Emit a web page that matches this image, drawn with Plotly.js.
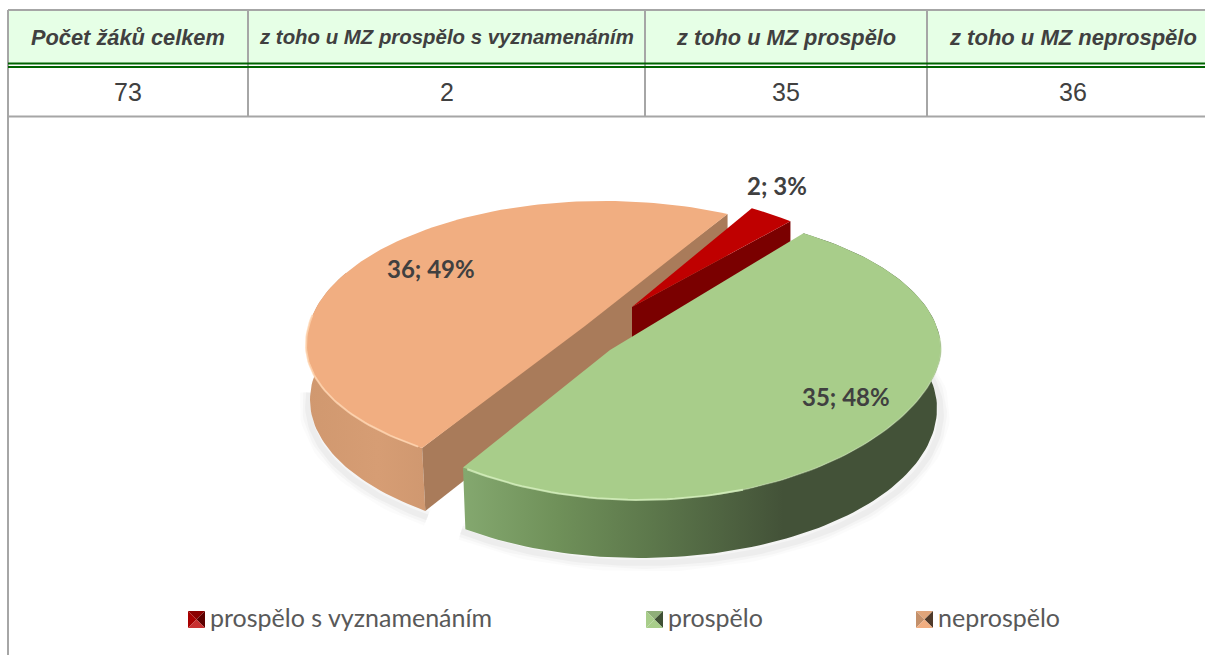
<!DOCTYPE html>
<html>
<head>
<meta charset="utf-8">
<script src="https://cdn.plot.ly/plotly-3.0.1.min.js"></script>
<style>html,body{margin:0;padding:0;background:#fff;overflow:hidden}#chart{width:1205px;height:655px}</style>
</head>
<body>
<div id="chart"></div>
<script>
// ---- data ----
const tableHeaders = ["Počet žáků celkem", "z toho u MZ prospělo s vyznamenáním", "z toho u MZ prospělo", "z toho u MZ neprospělo"];
const tableValues = [73, 2, 35, 36];
const sliceNames = ["prospělo s vyznamenáním", "prospělo", "neprospělo"];
const sliceValues = [2, 35, 36];

// ---- geometry and styling ----
const W = 1205, H = 655;
const colX = [8, 248, 645, 927, 1205];
const colShift = [0, 0, 0, 7];
const headSize = [21.8, 20.4, 21.8, 22];
const tableY = {top: 10, headBottom: 63.5, dbl2: 67, rowBottom: 116.5};
const startAngle = 24.5;
const stretch = [0.85, 1.061, 0.94];           // perspective widening of each slice's sweep
const startShift = [0, 0, 1.6];
const ell = [
  {cx: 627, cy: 340, rx: 301, ryT: 149, ryB: 150, p: 1.3, ax: 632, ay: 307},
  {cx: 640, cy: 350, rx: 301, ryT: 139, ryB: 150, pB: 1.15, ax: 610, ay: 350},
  {cx: 604, cy: 345, rx: 298, ryT: 144, ryB: 130, ax: 585, ay: 326}
];
const bottom = [
  {cx: 627, cy: 400, rx: 301, ryT: 149, ryB: 150, p: 1.3},
  {cx: 640, cy: 408, rx: 297, ryT: 139, ryB: 150},
  {cx: 606, cy: 400, rx: 296, ryT: 144, ryB: 140}
];
const topColor = ["#bf0000", "#a8cd8a", "#f1ae81"];
const cutColor = ["#7a0000", null, "#a97b5a"];
const FONT_LABEL = "Lato, 'Open Sans', sans-serif";

const total = sliceValues.reduce((a, b) => a + b, 0);
const rad = d => d * Math.PI / 180;
function pt(e, t) {
  const c = Math.cos(rad(t)), s = Math.sin(rad(t));
  const ry = c >= 0 ? e.ryT : e.ryB;
  const p = e.p || (c < 0 && e.pB) || 1;
  return [e.cx + e.rx * s, e.cy - ry * Math.sign(c) * Math.pow(Math.abs(c), p)];
}
function arc(e, t1, t2) {
  const n = Math.max(8, Math.ceil(Math.abs(t2 - t1) / 1.5)), out = [];
  for (let i = 0; i <= n; i++) out.push(pt(e, t1 + (t2 - t1) * i / n));
  return out;
}
// sweep of every slice, from the values
const sweep = [];
let cur = startAngle;
sliceValues.forEach((v, i) => {
  const a = v / total * 360 * stretch[i];
  sweep.push([cur + startShift[i], cur + startShift[i] + a]);
  cur += a;
});
const traces = [];
function poly(points, color, grad) {
  const t = {type: "scatter", mode: "lines", x: points.map(p => p[0]).concat(points[0][0]),
    y: points.map(p => p[1]).concat(points[0][1]), fill: "toself", line: {width: 0},
    hoverinfo: "skip", showlegend: false};
  if (grad) t.fillgradient = {type: "horizontal", colorscale: grad};
  else t.fillcolor = color;
  traces.push(t);
}
function stroke(points, color, width) {
  traces.push({type: "scatter", mode: "lines", x: points.map(p => p[0]), y: points.map(p => p[1]),
    line: {color: color, width: width}, hoverinfo: "skip", showlegend: false});
}
const [sR, sG, sO] = sweep;
const [eR, eG, eO] = ell;
const [, bG, bO] = bottom;

// soft shadow under the pie
const shG = {...bG, cx: bG.cx + 4, cy: bG.cy + 5};
const shO = {...bO, cx: bO.cx - 2, cy: bO.cy + 5};
[[18, .016], [12, .022], [6, .03]].forEach(([w, a]) => {
  stroke(arc(shG, 70, sG[1] + 2), "rgba(0,0,0," + a + ")", w);
  stroke(arc(shO, 275, sO[0] - 1), "rgba(0,0,0," + a + ")", w);
});

// orange slice
const oWallT2 = Math.min(sO[1], 300);
poly(arc(eO, sO[0], oWallT2).concat(arc(bO, oWallT2, sO[0])), null,
  [[0, "#d0986f"], [0.6, "#d69d74"], [1, "#d09870"]]);
const oA = pt(eO, sO[0]), oB = pt(eO, sO[1]);
poly([oB, [oB[0], oB[1] + 60], pt(bO, sO[0]), oA], cutColor[2]);
poly([[eO.ax, eO.ay]].concat(arc(eO, sO[0], sO[1])), topColor[2]);
stroke(arc(eO, sO[0] + 1, 282), "rgba(255,214,178,.8)", 2);

// red slice
const rB = pt(eR, sR[1]);
poly([[eR.ax, eR.ay], rB, [rB[0], rB[1] + 60], [eR.ax, eR.ay + 60]], cutColor[0]);
poly([[eR.ax, eR.ay]].concat(arc(eR, sR[0], sR[1])), topColor[0]);

// green slice
poly(arc(eG, sG[0], sG[1]).concat(arc(bG, sG[1], sG[0])), null,
  [[0, "#84a86f"], [0.2, "#6f9059"], [0.4, "#5c774b"], [0.67, "#435238"], [1, "#435238"]]);
poly([[eG.ax, eG.ay]].concat(arc(eG, sG[0], sG[1])), topColor[1]);
stroke(arc(eG, 85, 165), "rgba(190,215,165,.55)", 1.5);
stroke(arc(eG, 160, sG[1] - 1), "rgba(214,240,190,.8)", 2);

// ---- table shapes ----
const shapes = [];
const grey = "#a6a6a6";
function hline(y, x0, x1, c, w) { shapes.push({type: "line", x0, x1, y0: y, y1: y, line: {color: c, width: w}}); }
function vline(x, y0, y1, c, w) { shapes.push({type: "line", x0: x, x1: x, y0, y1, line: {color: c, width: w}}); }
shapes.push({type: "rect", x0: colX[0], x1: W, y0: tableY.top, y1: tableY.headBottom, fillcolor: "#e6ffe6", line: {width: 0}, layer: "below"});
hline(tableY.top, colX[0], W, grey, 2);
hline(tableY.rowBottom, colX[0], W, grey, 2);
vline(colX[0], tableY.top, H, grey, 2);
colX.slice(1, 4).forEach(x => vline(x, tableY.top, tableY.rowBottom, grey, 2));
hline(tableY.headBottom, colX[0], W, "#006400", 2);
hline(tableY.dbl2, colX[0], W, "#006400", 2);

// ---- text ----
const annotations = [];
function label(x, y, text, font, anchor) {
  annotations.push({x, y, xref: "x", yref: "y", text, showarrow: false, font, xanchor: anchor || "center", yanchor: "middle", borderpad: 0, align: "center"});
}
tableHeaders.forEach((h, i) => label((colX[i] + colX[i + 1]) / 2 + colShift[i], 37,
  "<b><i>" + h + "</i></b>", {family: "'Liberation Sans', Arial, sans-serif", size: headSize[i], color: "#404040"}));
tableValues.forEach((v, i) => label((colX[i] + colX[i + 1]) / 2 + colShift[i], 92,
  String(v), {family: "'Liberation Sans', Arial, sans-serif", size: 25, color: "#404040"}));

const labelPos = [[777, 185], [846, 396], [431, 268]];
sliceValues.forEach((v, i) => label(labelPos[i][0], labelPos[i][1],
  "<b>" + v + "; " + Math.round(v / total * 100) + "%</b>", {family: FONT_LABEL, size: 24, color: "#404040"}));

// ---- legend ----
const legendX = [188, 646, 916];
const swatch = [
  ["#8a0000", "#a80000", "#5c0000", "#c83030"],
  ["#8fae79", "#a8cd8a", "#3f5035", "#a8cd8a"],
  ["#e0a57a", "#c4906a", "#4f3a2a", "#f1ae81"]
];
const sy = 611, ss = 17;
legendX.forEach((x, i) => {
  const cx = x + ss / 2, cy = sy + ss / 2;
  const tri = [
    [[x, sy], [x + ss, sy]], [[x, sy], [x, sy + ss]],
    [[x + ss, sy], [x + ss, sy + ss]], [[x, sy + ss], [x + ss, sy + ss]]
  ];
  tri.forEach((t, j) => shapes.push({type: "path", xref: "x", yref: "y",
    path: `M${t[0][0]},${t[0][1]} L${t[1][0]},${t[1][1]} L${cx},${cy} Z`,
    fillcolor: swatch[i][j], line: {width: 0}}));
  label(x + ss + 4, 617, sliceNames[i], {family: FONT_LABEL, size: 25, color: "#595959"}, "left");
});

Plotly.newPlot("chart", traces, {
  width: W, height: H, margin: {l: 0, r: 0, t: 0, b: 0},
  paper_bgcolor: "#fff", plot_bgcolor: "#fff", showlegend: false, hovermode: false,
  xaxis: {range: [0, W], visible: false, fixedrange: true},
  yaxis: {range: [H, 0], visible: false, fixedrange: true},
  shapes, annotations
}, {displayModeBar: false, staticPlot: true});
</script>
</body>
</html>
